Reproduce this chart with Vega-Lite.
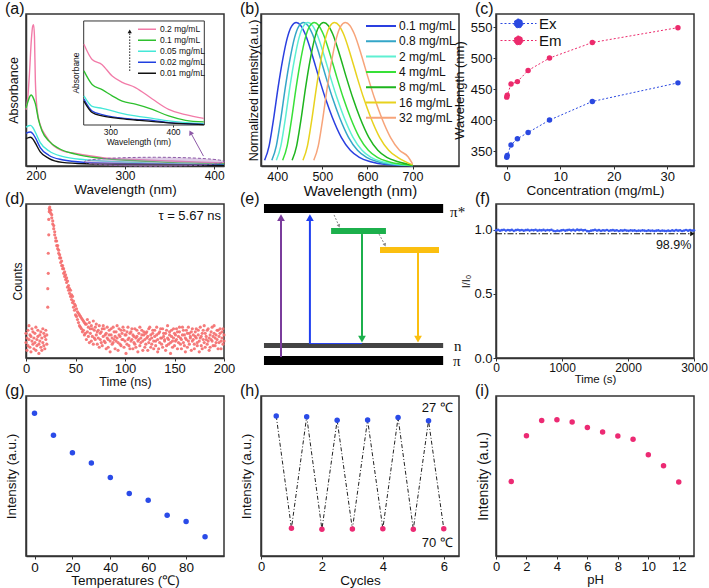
{
"$schema": "https://vega.github.io/schema/vega-lite/v6.json",
"background": "white",
"padding": {"left": 3, "top": 0, "right": 2, "bottom": 0},
"config": {
 "font": "Liberation Sans",
 "view": {"stroke": "#333333", "strokeWidth": 1.5},
 "axis": {"grid": false, "labelFont": "Liberation Sans", "titleFont": "Liberation Sans", "labelFontSize": 13, "titleFontSize": 14, "titleFontWeight": "normal", "labelColor": "#111111", "titleColor": "#111111", "domainColor": "#333333", "domainWidth": 1.5, "tickColor": "#333333", "tickSize": 3, "labelPadding": 1, "titlePadding": 0, "labelFlush": false, "labelOverlap": false},
 "axisY": {"titlePadding": 3},
 "title": {"anchor": "start", "frame": "group", "dx": -21, "offset": -3, "fontSize": 16, "fontWeight": "normal", "font": "Liberation Sans", "color": "#111111"},
 "legend": {"labelFont": "Liberation Sans", "labelColor": "#111111"}
},
"datasets": {
 "a_main": [
  {"c":"0.2 mg/mL","w":189,"a":0.37},{"c":"0.2 mg/mL","w":191,"a":0.45},{"c":"0.2 mg/mL","w":193,"a":0.62},{"c":"0.2 mg/mL","w":195,"a":0.83},{"c":"0.2 mg/mL","w":196.5,"a":0.92},{"c":"0.2 mg/mL","w":197.5,"a":0.93},{"c":"0.2 mg/mL","w":198.5,"a":0.85},{"c":"0.2 mg/mL","w":199.5,"a":0.56},{"c":"0.2 mg/mL","w":201.5,"a":0.37},{"c":"0.2 mg/mL","w":205,"a":0.27},{"c":"0.2 mg/mL","w":211,"a":0.2},{"c":"0.2 mg/mL","w":218,"a":0.145},{"c":"0.2 mg/mL","w":230,"a":0.1},{"c":"0.2 mg/mL","w":245,"a":0.082},{"c":"0.2 mg/mL","w":260,"a":0.067},{"c":"0.2 mg/mL","w":275,"a":0.055},{"c":"0.2 mg/mL","w":310,"a":0.043},{"c":"0.2 mg/mL","w":350,"a":0.033},{"c":"0.2 mg/mL","w":385,"a":0.025},{"c":"0.2 mg/mL","w":411,"a":0.02},
  {"c":"0.1 mg/mL","w":189,"a":0.38},{"c":"0.1 mg/mL","w":191,"a":0.42},{"c":"0.1 mg/mL","w":193,"a":0.455},{"c":"0.1 mg/mL","w":195,"a":0.467},{"c":"0.1 mg/mL","w":197,"a":0.45},{"c":"0.1 mg/mL","w":199.5,"a":0.41},{"c":"0.1 mg/mL","w":203,"a":0.305},{"c":"0.1 mg/mL","w":207,"a":0.23},{"c":"0.1 mg/mL","w":214.5,"a":0.165},{"c":"0.1 mg/mL","w":226,"a":0.115},{"c":"0.1 mg/mL","w":244.5,"a":0.078},{"c":"0.1 mg/mL","w":274,"a":0.05},{"c":"0.1 mg/mL","w":311,"a":0.035},{"c":"0.1 mg/mL","w":348,"a":0.024},{"c":"0.1 mg/mL","w":411,"a":0.013},
  {"c":"0.05 mg/mL","w":189,"a":0.255},{"c":"0.05 mg/mL","w":192,"a":0.265},{"c":"0.05 mg/mL","w":194,"a":0.267},{"c":"0.05 mg/mL","w":197,"a":0.25},{"c":"0.05 mg/mL","w":199.5,"a":0.222},{"c":"0.05 mg/mL","w":205,"a":0.154},{"c":"0.05 mg/mL","w":214.5,"a":0.1},{"c":"0.05 mg/mL","w":229.5,"a":0.063},{"c":"0.05 mg/mL","w":255,"a":0.041},{"c":"0.05 mg/mL","w":293,"a":0.028},{"c":"0.05 mg/mL","w":330,"a":0.019},{"c":"0.05 mg/mL","w":411,"a":0.009},
  {"c":"0.02 mg/mL","w":189,"a":0.215},{"c":"0.02 mg/mL","w":192,"a":0.222},{"c":"0.02 mg/mL","w":194,"a":0.224},{"c":"0.02 mg/mL","w":197,"a":0.21},{"c":"0.02 mg/mL","w":199.5,"a":0.186},{"c":"0.02 mg/mL","w":205,"a":0.121},{"c":"0.02 mg/mL","w":214.5,"a":0.071},{"c":"0.02 mg/mL","w":229.5,"a":0.041},{"c":"0.02 mg/mL","w":255,"a":0.024},{"c":"0.02 mg/mL","w":311,"a":0.015},{"c":"0.02 mg/mL","w":411,"a":0.006},
  {"c":"0.01 mg/mL","w":189,"a":0.18},{"c":"0.01 mg/mL","w":192,"a":0.187},{"c":"0.01 mg/mL","w":194,"a":0.189},{"c":"0.01 mg/mL","w":197,"a":0.175},{"c":"0.01 mg/mL","w":199.5,"a":0.15},{"c":"0.01 mg/mL","w":205,"a":0.093},{"c":"0.01 mg/mL","w":214.5,"a":0.05},{"c":"0.01 mg/mL","w":229.5,"a":0.024},{"c":"0.01 mg/mL","w":255,"a":0.015},{"c":"0.01 mg/mL","w":330,"a":0.01},{"c":"0.01 mg/mL","w":411,"a":0.004}
 ],
 "a_inset": [
  {"c":"0.2 mg/mL","w":258,"a":0.776},{"c":"0.2 mg/mL","w":271,"a":0.63},{"c":"0.2 mg/mL","w":287,"a":0.58},{"c":"0.2 mg/mL","w":303,"a":0.47},{"c":"0.2 mg/mL","w":319,"a":0.41},{"c":"0.2 mg/mL","w":340,"a":0.36},{"c":"0.2 mg/mL","w":367,"a":0.25},{"c":"0.2 mg/mL","w":393,"a":0.15},{"c":"0.2 mg/mL","w":420,"a":0.1},{"c":"0.2 mg/mL","w":449,"a":0.064},
  {"c":"0.1 mg/mL","w":258,"a":0.52},{"c":"0.1 mg/mL","w":271,"a":0.39},{"c":"0.1 mg/mL","w":287,"a":0.34},{"c":"0.1 mg/mL","w":303,"a":0.28},{"c":"0.1 mg/mL","w":319,"a":0.23},{"c":"0.1 mg/mL","w":340,"a":0.2},{"c":"0.1 mg/mL","w":367,"a":0.15},{"c":"0.1 mg/mL","w":393,"a":0.087},{"c":"0.1 mg/mL","w":420,"a":0.045},{"c":"0.1 mg/mL","w":449,"a":0.03},
  {"c":"0.05 mg/mL","w":258,"a":0.28},{"c":"0.05 mg/mL","w":271,"a":0.18},{"c":"0.05 mg/mL","w":287,"a":0.16},{"c":"0.05 mg/mL","w":313,"a":0.12},{"c":"0.05 mg/mL","w":340,"a":0.087},{"c":"0.05 mg/mL","w":367,"a":0.064},{"c":"0.05 mg/mL","w":393,"a":0.04},{"c":"0.05 mg/mL","w":449,"a":0.013},
  {"c":"0.02 mg/mL","w":258,"a":0.25},{"c":"0.02 mg/mL","w":271,"a":0.135},{"c":"0.02 mg/mL","w":287,"a":0.1},{"c":"0.02 mg/mL","w":313,"a":0.07},{"c":"0.02 mg/mL","w":340,"a":0.055},{"c":"0.02 mg/mL","w":367,"a":0.045},{"c":"0.02 mg/mL","w":393,"a":0.022},{"c":"0.02 mg/mL","w":449,"a":0.006},
  {"c":"0.01 mg/mL","w":258,"a":0.23},{"c":"0.01 mg/mL","w":271,"a":0.12},{"c":"0.01 mg/mL","w":287,"a":0.087},{"c":"0.01 mg/mL","w":313,"a":0.064},{"c":"0.01 mg/mL","w":340,"a":0.048},{"c":"0.01 mg/mL","w":393,"a":0.02},{"c":"0.01 mg/mL","w":449,"a":0.003}
 ],
 "b": [
  {"c":"0.1 mg/mL","w":372,"v":0.04},{"c":"0.1 mg/mL","w":382,"v":0.14},{"c":"0.1 mg/mL","w":387,"v":0.23},{"c":"0.1 mg/mL","w":392,"v":0.33},{"c":"0.1 mg/mL","w":402,"v":0.55},{"c":"0.1 mg/mL","w":412,"v":0.74},{"c":"0.1 mg/mL","w":422,"v":0.89},{"c":"0.1 mg/mL","w":432,"v":0.975},{"c":"0.1 mg/mL","w":442,"v":1},{"c":"0.1 mg/mL","w":452,"v":0.98},{"c":"0.1 mg/mL","w":462,"v":0.92},{"c":"0.1 mg/mL","w":477,"v":0.78},{"c":"0.1 mg/mL","w":492,"v":0.62},{"c":"0.1 mg/mL","w":507,"v":0.47},{"c":"0.1 mg/mL","w":522,"v":0.34},{"c":"0.1 mg/mL","w":542,"v":0.2},{"c":"0.1 mg/mL","w":562,"v":0.11},{"c":"0.1 mg/mL","w":582,"v":0.06},{"c":"0.1 mg/mL","w":607,"v":0.03},{"c":"0.1 mg/mL","w":642,"v":0.01},{"c":"0.1 mg/mL","w":700,"v":0.002},
  {"c":"0.8 mg/mL","w":388,"v":0.04},{"c":"0.8 mg/mL","w":398,"v":0.14},{"c":"0.8 mg/mL","w":403,"v":0.23},{"c":"0.8 mg/mL","w":408,"v":0.33},{"c":"0.8 mg/mL","w":418,"v":0.55},{"c":"0.8 mg/mL","w":428,"v":0.74},{"c":"0.8 mg/mL","w":438,"v":0.89},{"c":"0.8 mg/mL","w":448,"v":0.975},{"c":"0.8 mg/mL","w":458,"v":1},{"c":"0.8 mg/mL","w":468,"v":0.98},{"c":"0.8 mg/mL","w":478,"v":0.92},{"c":"0.8 mg/mL","w":493,"v":0.78},{"c":"0.8 mg/mL","w":508,"v":0.62},{"c":"0.8 mg/mL","w":523,"v":0.47},{"c":"0.8 mg/mL","w":538,"v":0.34},{"c":"0.8 mg/mL","w":558,"v":0.2},{"c":"0.8 mg/mL","w":578,"v":0.11},{"c":"0.8 mg/mL","w":598,"v":0.06},{"c":"0.8 mg/mL","w":623,"v":0.03},{"c":"0.8 mg/mL","w":658,"v":0.01},{"c":"0.8 mg/mL","w":700,"v":0.003},
  {"c":"2 mg/mL","w":398,"v":0.04},{"c":"2 mg/mL","w":408,"v":0.14},{"c":"2 mg/mL","w":413,"v":0.23},{"c":"2 mg/mL","w":418,"v":0.33},{"c":"2 mg/mL","w":428,"v":0.55},{"c":"2 mg/mL","w":438,"v":0.74},{"c":"2 mg/mL","w":448,"v":0.89},{"c":"2 mg/mL","w":458,"v":0.975},{"c":"2 mg/mL","w":468,"v":1},{"c":"2 mg/mL","w":478,"v":0.98},{"c":"2 mg/mL","w":488,"v":0.92},{"c":"2 mg/mL","w":503,"v":0.78},{"c":"2 mg/mL","w":518,"v":0.62},{"c":"2 mg/mL","w":533,"v":0.47},{"c":"2 mg/mL","w":548,"v":0.34},{"c":"2 mg/mL","w":568,"v":0.2},{"c":"2 mg/mL","w":588,"v":0.11},{"c":"2 mg/mL","w":608,"v":0.06},{"c":"2 mg/mL","w":633,"v":0.03},{"c":"2 mg/mL","w":668,"v":0.01},{"c":"2 mg/mL","w":700,"v":0.004},
  {"c":"4 mg/mL","w":412,"v":0.04},{"c":"4 mg/mL","w":422,"v":0.14},{"c":"4 mg/mL","w":427,"v":0.23},{"c":"4 mg/mL","w":432,"v":0.33},{"c":"4 mg/mL","w":442,"v":0.55},{"c":"4 mg/mL","w":452,"v":0.74},{"c":"4 mg/mL","w":462,"v":0.89},{"c":"4 mg/mL","w":472,"v":0.975},{"c":"4 mg/mL","w":482,"v":1},{"c":"4 mg/mL","w":492,"v":0.98},{"c":"4 mg/mL","w":502,"v":0.92},{"c":"4 mg/mL","w":517,"v":0.78},{"c":"4 mg/mL","w":532,"v":0.62},{"c":"4 mg/mL","w":547,"v":0.47},{"c":"4 mg/mL","w":562,"v":0.34},{"c":"4 mg/mL","w":582,"v":0.2},{"c":"4 mg/mL","w":602,"v":0.11},{"c":"4 mg/mL","w":622,"v":0.06},{"c":"4 mg/mL","w":647,"v":0.03},{"c":"4 mg/mL","w":682,"v":0.01},{"c":"4 mg/mL","w":700,"v":0.004},
  {"c":"8 mg/mL","w":433,"v":0.04},{"c":"8 mg/mL","w":443,"v":0.14},{"c":"8 mg/mL","w":448,"v":0.23},{"c":"8 mg/mL","w":453,"v":0.33},{"c":"8 mg/mL","w":463,"v":0.55},{"c":"8 mg/mL","w":473,"v":0.74},{"c":"8 mg/mL","w":483,"v":0.89},{"c":"8 mg/mL","w":493,"v":0.975},{"c":"8 mg/mL","w":503,"v":1},{"c":"8 mg/mL","w":513,"v":0.98},{"c":"8 mg/mL","w":523,"v":0.92},{"c":"8 mg/mL","w":538,"v":0.78},{"c":"8 mg/mL","w":553,"v":0.62},{"c":"8 mg/mL","w":568,"v":0.47},{"c":"8 mg/mL","w":583,"v":0.34},{"c":"8 mg/mL","w":603,"v":0.2},{"c":"8 mg/mL","w":623,"v":0.11},{"c":"8 mg/mL","w":643,"v":0.06},{"c":"8 mg/mL","w":668,"v":0.03},{"c":"8 mg/mL","w":700,"v":0.006},
  {"c":"16 mg/mL","w":457,"v":0.04},{"c":"16 mg/mL","w":467,"v":0.14},{"c":"16 mg/mL","w":472,"v":0.23},{"c":"16 mg/mL","w":477,"v":0.33},{"c":"16 mg/mL","w":487,"v":0.55},{"c":"16 mg/mL","w":497,"v":0.74},{"c":"16 mg/mL","w":507,"v":0.89},{"c":"16 mg/mL","w":517,"v":0.975},{"c":"16 mg/mL","w":527,"v":1},{"c":"16 mg/mL","w":537,"v":0.98},{"c":"16 mg/mL","w":547,"v":0.92},{"c":"16 mg/mL","w":562,"v":0.78},{"c":"16 mg/mL","w":577,"v":0.62},{"c":"16 mg/mL","w":592,"v":0.47},{"c":"16 mg/mL","w":607,"v":0.34},{"c":"16 mg/mL","w":627,"v":0.2},{"c":"16 mg/mL","w":647,"v":0.11},{"c":"16 mg/mL","w":667,"v":0.06},{"c":"16 mg/mL","w":700,"v":0.008},
  {"c":"32 mg/mL","w":481,"v":0.04},{"c":"32 mg/mL","w":491,"v":0.14},{"c":"32 mg/mL","w":496,"v":0.23},{"c":"32 mg/mL","w":501,"v":0.33},{"c":"32 mg/mL","w":511,"v":0.55},{"c":"32 mg/mL","w":521,"v":0.74},{"c":"32 mg/mL","w":531,"v":0.89},{"c":"32 mg/mL","w":541,"v":0.975},{"c":"32 mg/mL","w":551,"v":1},{"c":"32 mg/mL","w":561,"v":0.98},{"c":"32 mg/mL","w":571,"v":0.92},{"c":"32 mg/mL","w":586,"v":0.78},{"c":"32 mg/mL","w":601,"v":0.62},{"c":"32 mg/mL","w":616,"v":0.47},{"c":"32 mg/mL","w":631,"v":0.34},{"c":"32 mg/mL","w":651,"v":0.2},{"c":"32 mg/mL","w":671,"v":0.11},{"c":"32 mg/mL","w":690,"v":0.065},{"c":"32 mg/mL","w":700,"v":0.015}
 ],
 "c": [
  {"s":"Ex","conc":0.01,"wl":340},{"s":"Ex","conc":0.1,"wl":343},{"s":"Ex","conc":0.8,"wl":360},{"s":"Ex","conc":2,"wl":370},{"s":"Ex","conc":4,"wl":380},{"s":"Ex","conc":8,"wl":400},{"s":"Ex","conc":16,"wl":430},{"s":"Ex","conc":32,"wl":460},
  {"s":"Em","conc":0.01,"wl":437},{"s":"Em","conc":0.1,"wl":440},{"s":"Em","conc":0.8,"wl":458},{"s":"Em","conc":2,"wl":462},{"s":"Em","conc":4,"wl":480},{"s":"Em","conc":8,"wl":500},{"s":"Em","conc":16,"wl":525},{"s":"Em","conc":32,"wl":549}
 ],
 "d": [
  {"t":0,"a":0.10,"b":0.16},{"t":1,"a":0.05,"b":0.13},{"t":2,"a":0.18,"b":0.08},{"t":3,"a":0.12,"b":0.21},{"t":4,"a":0.07,"b":0.15},{"t":5,"a":0.14,"b":0.04},{"t":6,"a":0.19,"b":0.11},{"t":7,"a":0.09,"b":0.17},{"t":8,"a":0.13,"b":0.06},{"t":9,"a":0.16,"b":0.10},{"t":10,"a":0.05,"b":0.20},{"t":11,"a":0.12,"b":0.08},{"t":12,"a":0.18,"b":0.14},{"t":13,"a":0.09,"b":0.03},{"t":14,"a":0.15,"b":0.11},{"t":15,"a":0.07,"b":0.17},{"t":16,"a":0.13,"b":0.05},{"t":17,"a":0.10,"b":0.19},{"t":18,"a":0.16,"b":0.08},{"t":19,"a":0.06,"b":0.14},{"t":20,"a":0.12,"b":0.18},{"t":21,"a":0.09,"b":0.15},
  {"t":22,"a":0.33,"b":0.45},{"t":22.5,"a":0.55,"b":0.68},{"t":23,"a":0.8,"b":0.9},{"t":23.5,"a":0.95,"b":0.97},
  {"t":24,"a":0.98,"b":0.96},{"t":25,"a":0.96,"b":0.94},{"t":26,"a":0.93,"b":0.91},{"t":27,"a":0.89,"b":0.87},{"t":28,"a":0.86,"b":0.84},{"t":29,"a":0.82,"b":0.80},{"t":30,"a":0.78,"b":0.76},{"t":31,"a":0.76,"b":0.73},{"t":32,"a":0.73,"b":0.71},{"t":33,"a":0.70,"b":0.68},{"t":34,"a":0.67,"b":0.65},{"t":35,"a":0.65,"b":0.62},{"t":36,"a":0.63,"b":0.60},{"t":37,"a":0.60,"b":0.58},{"t":38,"a":0.58,"b":0.55},{"t":39,"a":0.56,"b":0.53},{"t":40,"a":0.54,"b":0.51},{"t":41,"a":0.52,"b":0.49},{"t":42,"a":0.50,"b":0.46},{"t":43,"a":0.47,"b":0.44},{"t":44,"a":0.45,"b":0.42},{"t":45,"a":0.44,"b":0.40},{"t":46,"a":0.41,"b":0.38},{"t":47,"a":0.40,"b":0.36},{"t":48,"a":0.37,"b":0.33},{"t":49,"a":0.35,"b":0.31},{"t":50,"a":0.34,"b":0.28},{"t":51,"a":0.32,"b":0.27},{"t":52,"a":0.30,"b":0.25},{"t":53,"a":0.29,"b":0.23},{"t":54,"a":0.28,"b":0.21},{"t":55,"a":0.27,"b":0.20},{"t":56,"a":0.26,"b":0.19},{"t":57,"a":0.25,"b":0.17},{"t":58,"a":0.24,"b":0.18},{"t":59,"a":0.23,"b":0.15},{"t":60,"a":0.22,"b":0.16},
  {"t":61,"a":0.22,"b":0.12},{"t":62,"a":0.17,"b":0.25},{"t":63,"a":0.14,"b":0.20},{"t":64,"a":0.23,"b":0.10},{"t":65,"a":0.16,"b":0.19},{"t":66,"a":0.11,"b":0.21},{"t":67,"a":0.19,"b":0.14},{"t":68,"a":0.24,"b":0.09},{"t":69,"a":0.13,"b":0.18},{"t":70,"a":0.20,"b":0.12},
  {"t":71,"a":0.15,"b":0.22},{"t":72,"a":0.09,"b":0.17},{"t":73,"a":0.18,"b":0.13},{"t":74,"a":0.21,"b":0.07},{"t":75,"a":0.12,"b":0.16},{"t":76,"a":0.17,"b":0.10},{"t":77,"a":0.08,"b":0.19},{"t":78,"a":0.14,"b":0.21},{"t":79,"a":0.19,"b":0.11},{"t":80,"a":0.10,"b":0.15},
  {"t":81,"a":0.16,"b":0.06},{"t":82,"a":0.13,"b":0.20},{"t":83,"a":0.07,"b":0.12},{"t":84,"a":0.18,"b":0.15},{"t":85,"a":0.11,"b":0.04},{"t":86,"a":0.15,"b":0.19},{"t":87,"a":0.09,"b":0.13},{"t":88,"a":0.20,"b":0.10},{"t":89,"a":0.12,"b":0.17},{"t":90,"a":0.06,"b":0.14},
  {"t":91,"a":0.17,"b":0.11},{"t":92,"a":0.13,"b":0.21},{"t":93,"a":0.10,"b":0.05},{"t":94,"a":0.19,"b":0.15},{"t":95,"a":0.14,"b":0.09},{"t":96,"a":0.08,"b":0.18},{"t":97,"a":0.16,"b":0.12},{"t":98,"a":0.12,"b":0.20},{"t":99,"a":0.18,"b":0.07},{"t":100,"a":0.11,"b":0.15},
  {"t":101,"a":0.15,"b":0.03},{"t":102,"a":0.09,"b":0.17},{"t":103,"a":0.20,"b":0.12},{"t":104,"a":0.13,"b":0.08},{"t":105,"a":0.06,"b":0.16},{"t":106,"a":0.17,"b":0.11},{"t":107,"a":0.12,"b":0.19},{"t":108,"a":0.15,"b":0.06},{"t":109,"a":0.10,"b":0.14},{"t":110,"a":0.19,"b":0.09},
  {"t":111,"a":0.07,"b":0.13},{"t":112,"a":0.14,"b":0.18},{"t":113,"a":0.11,"b":0.04},{"t":114,"a":0.16,"b":0.12},{"t":115,"a":0.08,"b":0.20},{"t":116,"a":0.13,"b":0.10},{"t":117,"a":0.18,"b":0.15},{"t":118,"a":0.05,"b":0.11},{"t":119,"a":0.15,"b":0.17},{"t":120,"a":0.12,"b":0.07},
  {"t":121,"a":0.09,"b":0.16},{"t":122,"a":0.17,"b":0.13},{"t":123,"a":0.14,"b":0.05},{"t":124,"a":0.10,"b":0.19},{"t":125,"a":0.20,"b":0.12},{"t":126,"a":0.07,"b":0.15},{"t":127,"a":0.13,"b":0.09},{"t":128,"a":0.16,"b":0.18},{"t":129,"a":0.11,"b":0.06},{"t":130,"a":0.18,"b":0.14},
  {"t":131,"a":0.08,"b":0.11},{"t":132,"a":0.15,"b":0.20},{"t":133,"a":0.12,"b":0.04},{"t":134,"a":0.06,"b":0.16},{"t":135,"a":0.17,"b":0.10},{"t":136,"a":0.13,"b":0.19},{"t":137,"a":0.09,"b":0.13},{"t":138,"a":0.19,"b":0.07},{"t":139,"a":0.14,"b":0.16},{"t":140,"a":0.11,"b":0.12},
  {"t":141,"a":0.16,"b":0.05},{"t":142,"a":0.08,"b":0.18},{"t":143,"a":0.21,"b":0.13},{"t":144,"a":0.12,"b":0.09},{"t":145,"a":0.15,"b":0.17},{"t":146,"a":0.10,"b":0.03},{"t":147,"a":0.18,"b":0.14},{"t":148,"a":0.07,"b":0.11},{"t":149,"a":0.13,"b":0.19},{"t":150,"a":0.16,"b":0.08},
  {"t":151,"a":0.11,"b":0.15},{"t":152,"a":0.19,"b":0.12},{"t":153,"a":0.06,"b":0.17},{"t":154,"a":0.14,"b":0.10},{"t":155,"a":0.17,"b":0.20},{"t":156,"a":0.09,"b":0.13},{"t":157,"a":0.12,"b":0.06},{"t":158,"a":0.20,"b":0.15},{"t":159,"a":0.10,"b":0.18},{"t":160,"a":0.15,"b":0.08},
  {"t":161,"a":0.13,"b":0.04},{"t":162,"a":0.18,"b":0.12},{"t":163,"a":0.07,"b":0.16},{"t":164,"a":0.11,"b":0.20},{"t":165,"a":0.16,"b":0.09},{"t":166,"a":0.14,"b":0.13},{"t":167,"a":0.05,"b":0.17},{"t":168,"a":0.19,"b":0.11},{"t":169,"a":0.12,"b":0.15},{"t":170,"a":0.09,"b":0.06},
  {"t":171,"a":0.17,"b":0.14},{"t":172,"a":0.13,"b":0.19},{"t":173,"a":0.08,"b":0.10},{"t":174,"a":0.15,"b":0.18},{"t":175,"a":0.11,"b":0.04},{"t":176,"a":0.20,"b":0.13},{"t":177,"a":0.14,"b":0.08},{"t":178,"a":0.06,"b":0.16},{"t":179,"a":0.18,"b":0.12},{"t":180,"a":0.10,"b":0.21},
  {"t":181,"a":0.16,"b":0.07},{"t":182,"a":0.12,"b":0.14},{"t":183,"a":0.09,"b":0.18},{"t":184,"a":0.19,"b":0.11},{"t":185,"a":0.13,"b":0.05},{"t":186,"a":0.07,"b":0.15},{"t":187,"a":0.17,"b":0.12},{"t":188,"a":0.11,"b":0.20},{"t":189,"a":0.14,"b":0.08},{"t":190,"a":0.21,"b":0.16},
  {"t":191,"a":0.08,"b":0.13},{"t":192,"a":0.15,"b":0.10},{"t":193,"a":0.12,"b":0.18},{"t":194,"a":0.18,"b":0.06},{"t":195,"a":0.10,"b":0.14},{"t":196,"a":0.16,"b":0.19},{"t":197,"a":0.06,"b":0.11},{"t":198,"a":0.13,"b":0.17},{"t":199,"a":0.19,"b":0.09},{"t":200,"a":0.11,"b":0.15}
 ],
 "e_bars": [
  {"lv":"pi*","x0":1.5,"x1":92,"y0":94.2,"y1":100},
  {"lv":"n","x0":1.5,"x1":92,"y0":6.5,"y1":9.7},
  {"lv":"pi","x0":1.5,"x1":92,"y0":-4.5,"y1":1.3},
  {"lv":"S1","x0":35.4,"x1":63.1,"y0":80.5,"y1":84.4},
  {"lv":"S2","x0":60.1,"x1":89.9,"y0":68.2,"y1":72.1}
 ],
 "e_arrows": [
  {"ar":"abs1","x":10.1,"y0":0.6,"y1":91.2,"tip":91.2,"dir":"up"},
  {"ar":"abs2","x":24.7,"y0":9.1,"y1":91.2,"tip":91.2,"dir":"up"},
  {"ar":"em1","x":51,"y0":80.5,"y1":12.2,"tip":12.2,"dir":"down"},
  {"ar":"em2","x":79.3,"y0":68.2,"y1":12.2,"tip":12.2,"dir":"down"}
 ],
 "e_diag": [
  {"x0":36.9,"y0":92.9,"x1":39.4,"y1":85.7},
  {"x0":59.6,"y0":80.5,"x1":62.6,"y1":73.4}
 ],
 "e_text": [
  {"t":"π*","x":95.5,"y":94.8},
  {"t":"n","x":97.5,"y":7.8},
  {"t":"π","x":97,"y":-2}
 ],
 "f": [
  {"t":0,"r":0.995},{"t":30,"r":0.998},{"t":60,"r":0.992},{"t":90,"r":0.996},{"t":120,"r":0.999},{"t":150,"r":0.993},{"t":180,"r":0.997},{"t":210,"r":0.994},{"t":240,"r":0.998},{"t":270,"r":0.991},
  {"t":300,"r":0.996},{"t":330,"r":0.999},{"t":360,"r":0.994},{"t":390,"r":0.997},{"t":420,"r":0.992},{"t":450,"r":0.996},{"t":480,"r":0.998},{"t":510,"r":0.993},{"t":540,"r":0.997},{"t":570,"r":0.995},
  {"t":600,"r":0.999},{"t":630,"r":0.992},{"t":660,"r":0.996},{"t":690,"r":0.994},{"t":720,"r":0.998},{"t":750,"r":0.993},{"t":780,"r":0.997},{"t":810,"r":0.995},{"t":840,"r":0.999},{"t":870,"r":0.991},
  {"t":900,"r":0.988},{"t":930,"r":0.993},{"t":960,"r":0.990},{"t":990,"r":0.994},{"t":1020,"r":0.997},{"t":1050,"r":0.992},{"t":1080,"r":0.996},{"t":1110,"r":0.999},{"t":1140,"r":0.994},{"t":1170,"r":0.998},
  {"t":1200,"r":0.993},{"t":1230,"r":1.0},{"t":1260,"r":0.996},{"t":1290,"r":0.999},{"t":1320,"r":0.994},{"t":1350,"r":0.997},{"t":1380,"r":0.989},{"t":1410,"r":0.987},{"t":1440,"r":0.992},{"t":1470,"r":0.995},
  {"t":1500,"r":0.998},{"t":1530,"r":0.993},{"t":1560,"r":0.996},{"t":1590,"r":0.991},{"t":1620,"r":0.995},{"t":1650,"r":0.993},{"t":1680,"r":0.997},{"t":1710,"r":0.991},{"t":1740,"r":0.994},{"t":1770,"r":0.996},
  {"t":1800,"r":0.992},{"t":1830,"r":0.995},{"t":1860,"r":0.990},{"t":1890,"r":0.994},{"t":1920,"r":0.992},{"t":1950,"r":0.996},{"t":1980,"r":0.993},{"t":2010,"r":0.991},{"t":2040,"r":0.995},{"t":2070,"r":0.992},
  {"t":2100,"r":0.994},{"t":2130,"r":0.990},{"t":2160,"r":0.993},{"t":2190,"r":0.991},{"t":2220,"r":0.995},{"t":2250,"r":0.992},{"t":2280,"r":0.990},{"t":2310,"r":0.994},{"t":2340,"r":0.991},{"t":2370,"r":0.993},
  {"t":2400,"r":0.989},{"t":2430,"r":0.992},{"t":2460,"r":0.994},{"t":2490,"r":0.990},{"t":2520,"r":0.993},{"t":2550,"r":0.991},{"t":2580,"r":0.989},{"t":2610,"r":0.993},{"t":2640,"r":0.990},{"t":2670,"r":0.994},
  {"t":2700,"r":0.991},{"t":2730,"r":0.996},{"t":2760,"r":0.992},{"t":2790,"r":0.995},{"t":2820,"r":0.990},{"t":2850,"r":0.993},{"t":2880,"r":0.997},{"t":2910,"r":0.992},{"t":2940,"r":0.996},{"t":2970,"r":0.993},{"t":3000,"r":0.995}
 ],
 "g": [
  {"T":0,"v":0.892},{"T":10,"v":0.754},{"T":20,"v":0.646},{"T":30,"v":0.581},{"T":40,"v":0.49},{"T":50,"v":0.39},{"T":60,"v":0.348},{"T":70,"v":0.254},{"T":80,"v":0.215},{"T":90,"v":0.121}
 ],
 "h": [
  {"cyc":0.5,"v":0.875,"s":"27"},{"cyc":1,"v":0.173,"s":"70"},{"cyc":1.5,"v":0.871,"s":"27"},{"cyc":2,"v":0.167,"s":"70"},{"cyc":2.5,"v":0.848,"s":"27"},{"cyc":3,"v":0.169,"s":"70"},{"cyc":3.5,"v":0.85,"s":"27"},{"cyc":4,"v":0.171,"s":"70"},{"cyc":4.5,"v":0.865,"s":"27"},{"cyc":5,"v":0.167,"s":"70"},{"cyc":5.5,"v":0.846,"s":"27"},{"cyc":6,"v":0.171,"s":"70"}
 ],
 "i": [
  {"pH":1,"v":0.466},{"pH":2,"v":0.752},{"pH":3,"v":0.847},{"pH":4,"v":0.852},{"pH":5,"v":0.837},{"pH":6,"v":0.803},{"pH":7,"v":0.775},{"pH":8,"v":0.75},{"pH":9,"v":0.729},{"pH":10,"v":0.633},{"pH":11,"v":0.564},{"pH":12,"v":0.462}
 ]
},
"bounds": "flush",
"columns": 3,
"spacing": {"row": 38, "column": 37},
"resolve": {"scale": {"color": "independent", "fill": "independent", "stroke": "independent", "shape": "independent"}, "legend": {"color": "independent"}},
"concat": [
  {
   "width": 198, "height": 152,
   "title": {"text": "(a)"},
   "layer": [
    {"layer": [
     {"data": {"name": "a_main"},
      "mark": {"type": "line", "strokeWidth": 1.4, "interpolate": "monotone"},
      "encoding": {
       "x": {"field": "w", "type": "quantitative", "scale": {"domain": [189, 411], "nice": false, "zero": false}, "axis": {"values": [200, 300, 400], "title": "Wavelength (nm)", "labelFontSize": 12, "titleFontSize": 13.5, "titlePadding": 1}},
       "y": {"field": "a", "type": "quantitative", "scale": {"domain": [0, 1], "nice": false}, "axis": {"labels": false, "ticks": false, "title": "Absorbance", "titleFontSize": 12.5, "titlePadding": 6}},
       "color": {"field": "c", "type": "nominal", "scale": {"domain": ["0.2 mg/mL","0.1 mg/mL","0.05 mg/mL","0.02 mg/mL","0.01 mg/mL"], "range": ["#f27ba8","#2ec02e","#44e8d8","#2040e0","#111111"]},
        "legend": {"title": null, "orient": "none", "legendX": 111, "legendY": 11, "symbolType": "stroke", "symbolSize": 324, "symbolStrokeWidth": 1.5, "clipHeight": 8.5, "rowPadding": 2, "labelFontSize": 8.5, "labelOffset": 3, "padding": 0}}
      }},
     {"data": {"values": [{}]},
      "mark": {"type": "point", "shape": "M-1,0A1,0.064 0 1,0 1,0A1,0.064 0 1,0 -1,0", "size": 19600, "filled": true, "fill": "#b48cc8", "fillOpacity": 0.45, "stroke": "#8e5aa8", "strokeDash": [3, 2], "strokeWidth": 1, "opacity": 1},
      "encoding": {"x": {"datum": 333, "type": "quantitative"}, "y": {"datum": 0.028, "type": "quantitative"}}},
     {"data": {"values": [{}]},
      "mark": {"type": "rule", "color": "#8e5aa8", "strokeWidth": 1},
      "encoding": {"x": {"datum": 388, "type": "quantitative"}, "y": {"datum": 0.065, "type": "quantitative"}, "x2": {"datum": 374}, "y2": {"datum": 0.215}}},
     {"data": {"values": [{}]},
      "mark": {"type": "point", "shape": "triangle-up", "angle": -28, "size": 30, "filled": true, "color": "#8e5aa8", "opacity": 1},
      "encoding": {"x": {"datum": 373.5, "type": "quantitative"}, "y": {"datum": 0.22, "type": "quantitative"}}}
    ]},
    {"layer": [
     {"data": {"values": [{}]},
      "mark": {"type": "rect", "fill": "white", "stroke": "#333333", "strokeWidth": 1},
      "encoding": {
       "x": {"datum": 257.6, "type": "quantitative", "scale": {"domain": [165.6, 481.3], "nice": false, "zero": false}, "axis": {"orient": "bottom", "offset": -41, "values": [300, 400], "domain": false, "tickSize": 2, "labelFontSize": 8.5, "labelPadding": 0, "title": null, "zindex": 1}},
       "x2": {"datum": 449.9},
       "y": {"datum": 0, "type": "quantitative", "scale": {"domain": [-0.394, 1.067], "nice": false, "zero": false}, "axis": null},
       "y2": {"datum": 1}
      }},
     {"data": {"name": "a_inset"},
      "mark": {"type": "line", "strokeWidth": 1.3, "interpolate": "monotone"},
      "encoding": {
       "x": {"field": "w", "type": "quantitative"},
       "y": {"field": "a", "type": "quantitative"},
       "color": {"field": "c", "type": "nominal", "scale": {"domain": ["0.2 mg/mL","0.1 mg/mL","0.05 mg/mL","0.02 mg/mL","0.01 mg/mL"], "range": ["#f27ba8","#2ec02e","#44e8d8","#2040e0","#111111"]}}
      }},
     {"data": {"values": [{}]},
      "mark": {"type": "rule", "color": "#111111", "strokeWidth": 1, "strokeDash": [1.5, 1.5]},
      "encoding": {"x": {"datum": 331, "type": "quantitative"}, "y": {"datum": 0.52, "type": "quantitative"}, "y2": {"datum": 0.88}}},
     {"data": {"values": [{}]},
      "mark": {"type": "point", "shape": "triangle-up", "size": 18, "filled": true, "color": "#111111", "opacity": 1},
      "encoding": {"x": {"datum": 331, "type": "quantitative"}, "y": {"datum": 0.9, "type": "quantitative"}}},
     {"data": {"values": [{}]},
      "mark": {"type": "text", "text": "Absorbane", "angle": 270, "fontSize": 8.5, "font": "Liberation Sans", "color": "#111111", "baseline": "middle"},
      "encoding": {"x": {"datum": 245, "type": "quantitative"}, "y": {"datum": 0.5, "type": "quantitative"}}},
     {"data": {"values": [{}]},
      "mark": {"type": "text", "text": "Wavelength (nm)", "fontSize": 8.5, "font": "Liberation Sans", "color": "#111111", "baseline": "middle"},
      "encoding": {"x": {"datum": 345.5, "type": "quantitative"}, "y": {"datum": -0.16, "type": "quantitative"}}}
    ]}
   ],
   "resolve": {"scale": {"x": "independent", "y": "independent"}}
  },
  {
   "width": 198, "height": 152,
   "title": {"text": "(b)"},
   "data": {"name": "b"},
   "mark": {"type": "line", "strokeWidth": 1.5, "interpolate": "monotone"},
   "encoding": {
    "x": {"field": "w", "type": "quantitative", "scale": {"domain": [364, 803], "nice": false, "zero": false}, "axis": {"values": [400, 500, 600, 700], "title": "Wavelength (nm)", "labelFontSize": 12.5, "titleFontSize": 15, "titlePadding": 1}},
    "y": {"field": "v", "type": "quantitative", "scale": {"domain": [0, 1.06], "nice": false}, "axis": {"labels": false, "ticks": false, "title": "Normalized intensity(a.u.)", "titleFontSize": 12.5, "titlePadding": 1}},
    "color": {"field": "c", "type": "nominal", "scale": {"domain": ["0.1 mg/mL","0.8 mg/mL","2 mg/mL","4 mg/mL","8 mg/mL","16 mg/mL","32 mg/mL"], "range": ["#2a3fe0","#34a6c8","#5ef0d2","#38e038","#1eb41e","#e8d21e","#f7a47a"]},
     "legend": {"title": null, "orient": "none", "legendX": 104, "legendY": 6, "symbolType": "stroke", "symbolSize": 900, "symbolStrokeWidth": 2, "clipHeight": 12, "rowPadding": 3.3, "labelFontSize": 12, "labelOffset": 2, "padding": 0}}
   }
  },
  {
   "width": 198, "height": 152,
   "title": {"text": "(c)"},
   "data": {"name": "c"},
   "encoding": {
    "x": {"field": "conc", "type": "quantitative", "scale": {"domain": [-2, 35], "nice": false, "zero": false}, "axis": {"values": [0, 10, 20, 30], "title": "Concentration (mg/mL)", "titleFontSize": 13.5}},
    "y": {"field": "wl", "type": "quantitative", "scale": {"domain": [326, 571], "nice": false, "zero": false}, "axis": {"values": [350, 400, 450, 500, 550], "title": "Wavelength (nm)", "titleFontSize": 13, "titlePadding": 4}},
    "color": {"field": "s", "type": "nominal", "scale": {"domain": ["Ex", "Em"], "range": ["#2a48e0", "#ec2a6c"]},
     "legend": {"title": null, "orient": "none", "legendX": 4, "legendY": 2, "symbolType": "M-1,0H-0.25M0.25,0H1M-0.25,0A0.25,0.25 0 1,0 0.25,0A0.25,0.25 0 1,0 -0.25,0Z", "symbolSize": 1296, "clipHeight": 15, "rowPadding": 1, "labelFontSize": 15, "labelOffset": 2, "symbolStrokeWidth": 1, "padding": 0,
      "encode": {"symbols": {"update": {"shape": {"value": "M-1,0H-0.25M0.25,0H1M-0.25,0A0.25,0.25 0 1,0 0.25,0A0.25,0.25 0 1,0 -0.25,0Z"}, "size": {"value": 1296}, "stroke": {"signal": "datum.value === 'Ex' ? '#2a48e0' : '#ec2a6c'"}, "strokeDash": {"value": [2, 2]}, "strokeWidth": {"value": 1}}}}}}
   },
   "layer": [
    {"mark": {"type": "line", "strokeDash": [2, 2], "strokeWidth": 1}},
    {"mark": {"type": "point", "filled": true, "size": 30, "opacity": 1}}
   ]
  },
  {
   "width": 198, "height": 154,
   "title": {"text": "(d)"},
   "layer": [
    {"data": {"name": "d"},
     "transform": [{"fold": ["a", "b"], "as": ["k", "cnt"]}],
     "mark": {"type": "point", "filled": true, "size": 10, "color": "#f46d6d", "opacity": 0.9},
     "encoding": {
      "x": {"field": "t", "type": "quantitative", "scale": {"domain": [0, 200], "nice": false}, "axis": {"values": [0, 50, 100, 150, 200], "title": "Time (ns)", "titleFontSize": 12.5}},
      "y": {"field": "cnt", "type": "quantitative", "scale": {"domain": [0, 1], "nice": false}, "axis": {"labels": false, "ticks": false, "title": "Counts", "titleFontSize": 12, "titlePadding": 2}}
     }},
    {"data": {"values": [{}]},
     "mark": {"type": "text", "text": "τ = 5.67 ns", "align": "right", "baseline": "middle", "fontSize": 13, "font": "Liberation Sans", "color": "#111111"},
     "encoding": {"x": {"datum": 197, "type": "quantitative"}, "y": {"datum": 0.92, "type": "quantitative"}}}
   ]
  },
  {
   "width": 198, "height": 154,
   "title": {"text": "(e)"},
   "view": {"stroke": null},
   "layer": [
    {"data": {"name": "e_bars"},
     "mark": {"type": "rect"},
     "encoding": {
      "x": {"field": "x0", "type": "quantitative", "scale": {"domain": [0, 100], "nice": false}, "axis": null},
      "x2": {"field": "x1"},
      "y": {"field": "y0", "type": "quantitative", "scale": {"domain": [0, 100], "nice": false}, "axis": null},
      "y2": {"field": "y1"},
      "fill": {"field": "lv", "type": "nominal", "scale": {"domain": ["pi*", "n", "pi", "S1", "S2"], "range": ["#000000", "#444444", "#000000", "#1cb04c", "#fbbf10"]}, "legend": null}
     }},
    {"data": {"values": [{}]},
     "mark": {"type": "rule", "color": "#2a45f0", "strokeWidth": 1},
     "encoding": {"x": {"datum": 24.7, "type": "quantitative"}, "x2": {"datum": 51}, "y": {"datum": 9.4, "type": "quantitative"}}},
    {"data": {"name": "e_arrows"},
     "mark": {"type": "rule", "strokeWidth": 2},
     "encoding": {
      "x": {"field": "x", "type": "quantitative"},
      "y": {"field": "y0", "type": "quantitative"},
      "y2": {"field": "y1"},
      "stroke": {"field": "ar", "type": "nominal", "scale": {"domain": ["abs1", "abs2", "em1", "em2"], "range": ["#7a3c9c", "#1f3ff0", "#1cb04c", "#fbbf10"]}, "legend": null}
     }},
    {"data": {"name": "e_arrows"},
     "mark": {"type": "point", "filled": true, "size": 60, "opacity": 1},
     "encoding": {
      "x": {"field": "x", "type": "quantitative"},
      "y": {"field": "tip", "type": "quantitative"},
      "shape": {"field": "dir", "type": "nominal", "scale": {"domain": ["up", "down"], "range": ["triangle-up", "triangle-down"]}, "legend": null},
      "fill": {"field": "ar", "type": "nominal", "scale": {"domain": ["abs1", "abs2", "em1", "em2"], "range": ["#7a3c9c", "#1f3ff0", "#1cb04c", "#fbbf10"]}, "legend": null}
     }},
    {"data": {"name": "e_diag"},
     "mark": {"type": "rule", "color": "#888888", "strokeWidth": 1, "strokeDash": [2, 1.5]},
     "encoding": {"x": {"field": "x0", "type": "quantitative"}, "y": {"field": "y0", "type": "quantitative"}, "x2": {"field": "x1"}, "y2": {"field": "y1"}}},
    {"data": {"name": "e_diag"},
     "mark": {"type": "point", "shape": "triangle-down", "angle": -24, "size": 14, "filled": true, "color": "#888888", "opacity": 1},
     "encoding": {"x": {"field": "x1", "type": "quantitative"}, "y": {"field": "y1", "type": "quantitative"}}},
    {"data": {"name": "e_text"},
     "mark": {"type": "text", "align": "left", "baseline": "middle", "fontSize": 15, "font": "Liberation Serif", "color": "#111111"},
     "encoding": {"x": {"field": "x", "type": "quantitative"}, "y": {"field": "y", "type": "quantitative"}, "text": {"field": "t"}}}
   ],
   "resolve": {"scale": {"fill": "independent", "stroke": "independent"}}
  },
  {
   "width": 198, "height": 154,
   "title": {"text": "(f)"},
   "layer": [
    {"data": {"name": "f"},
     "mark": {"type": "line", "color": "#3a5cf0", "strokeWidth": 1, "point": {"filled": true, "size": 7, "color": "#3a5cf0"}},
     "encoding": {
      "x": {"field": "t", "type": "quantitative", "scale": {"domain": [0, 3000], "nice": false}, "axis": {"values": [0, 1000, 2000, 3000], "format": "d", "title": "Time (s)", "labelFontSize": 12, "titleFontSize": 11.5}},
      "y": {"field": "r", "type": "quantitative", "scale": {"domain": [0, 1.2], "nice": false}, "axis": {"values": [0, 0.5, 1], "format": ".1f", "title": "I/I₀", "titleFontSize": 11, "titlePadding": 2}}
     }},
    {"data": {"values": [{}]},
     "mark": {"type": "rule", "color": "#111111", "strokeWidth": 1.2, "strokeDash": [6, 2, 1.5, 2]},
     "encoding": {"x": {"datum": 0, "type": "quantitative"}, "x2": {"datum": 2960}, "y": {"datum": 0.968, "type": "quantitative"}}},
    {"data": {"values": [{}]},
     "mark": {"type": "point", "shape": "triangle-right", "size": 25, "filled": true, "color": "#111111", "opacity": 1},
     "encoding": {"x": {"datum": 2975, "type": "quantitative"}, "y": {"datum": 0.968, "type": "quantitative"}}},
    {"data": {"values": [{}]},
     "mark": {"type": "text", "text": "98.9%", "align": "right", "baseline": "middle", "fontSize": 12.5, "font": "Liberation Sans", "color": "#111111"},
     "encoding": {"x": {"datum": 2960, "type": "quantitative"}, "y": {"datum": 0.88, "type": "quantitative"}}}
   ]
  },
  {
   "width": 198, "height": 160,
   "title": {"text": "(g)"},
   "data": {"name": "g"},
   "mark": {"type": "point", "filled": true, "size": 30, "color": "#2a4be8", "opacity": 1},
   "encoding": {
    "x": {"field": "T", "type": "quantitative", "scale": {"domain": [-4.5, 100], "nice": false, "zero": false}, "axis": {"values": [0, 20, 40, 60, 80], "title": "Temperatures (℃)", "labelFontSize": 13.5, "titleFontSize": 13.5}},
    "y": {"field": "v", "type": "quantitative", "scale": {"domain": [0, 1], "nice": false}, "axis": {"labels": false, "ticks": false, "title": "Intensity (a.u.)", "titleFontSize": 13.5, "titlePadding": 8}}
   }
  },
  {
   "width": 198, "height": 160,
   "title": {"text": "(h)"},
   "layer": [
    {"data": {"name": "h"},
     "mark": {"type": "line", "color": "#222222", "strokeWidth": 1, "strokeDash": [4, 2, 1, 2]},
     "encoding": {
      "x": {"field": "cyc", "type": "quantitative", "scale": {"domain": [0, 6.5], "nice": false}, "axis": {"values": [0, 1, 2, 3, 4, 5, 6], "title": "Cycles", "titleFontSize": 13.5}},
      "y": {"field": "v", "type": "quantitative", "scale": {"domain": [0, 1], "nice": false}, "axis": {"labels": false, "ticks": false, "title": "Intensity (a.u.)", "titleFontSize": 13.5, "titlePadding": 8}}
     }},
    {"data": {"name": "h"},
     "mark": {"type": "point", "filled": true, "size": 30, "opacity": 1},
     "encoding": {
      "x": {"field": "cyc", "type": "quantitative"},
      "y": {"field": "v", "type": "quantitative"},
      "color": {"field": "s", "type": "nominal", "scale": {"domain": ["27", "70"], "range": ["#2a4be8", "#ec2a73"]}, "legend": null}
     }},
    {"data": {"values": [{}]},
     "mark": {"type": "text", "text": "27 ℃", "align": "right", "baseline": "middle", "fontSize": 13, "font": "Liberation Sans", "color": "#111111"},
     "encoding": {"x": {"datum": 6.3, "type": "quantitative"}, "y": {"datum": 0.925, "type": "quantitative"}}},
    {"data": {"values": [{}]},
     "mark": {"type": "text", "text": "70 ℃", "align": "right", "baseline": "middle", "fontSize": 13, "font": "Liberation Sans", "color": "#111111"},
     "encoding": {"x": {"datum": 6.3, "type": "quantitative"}, "y": {"datum": 0.08, "type": "quantitative"}}}
   ]
  },
  {
   "width": 198, "height": 160,
   "title": {"text": "(i)"},
   "data": {"name": "i"},
   "mark": {"type": "point", "filled": true, "size": 30, "color": "#ec2a73", "opacity": 1},
   "encoding": {
    "x": {"field": "pH", "type": "quantitative", "scale": {"domain": [0, 13], "nice": false}, "axis": {"values": [0, 2, 4, 6, 8, 10, 12], "title": "pH", "titleFontSize": 13}},
    "y": {"field": "v", "type": "quantitative", "scale": {"domain": [0, 1], "nice": false}, "axis": {"labels": false, "ticks": false, "title": "Intensity (a.u.)", "titleFontSize": 14, "titlePadding": 6}}
   }
  }
]
}
